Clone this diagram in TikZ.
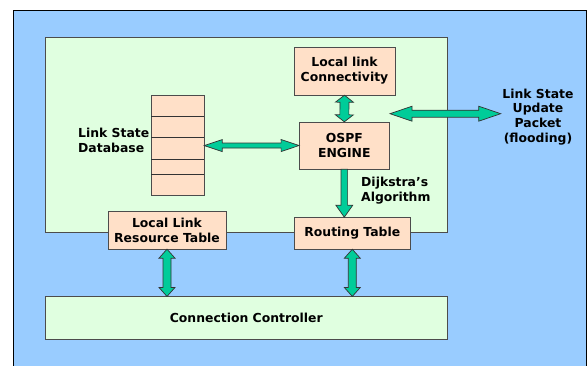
\documentclass[tikz,border=0pt]{standalone}
\usepackage{fontspec}
\setmainfont{DejaVu Sans}
\usetikzlibrary{calc}
\definecolor{skyblue}{RGB}{153,204,255}
\definecolor{palegreen}{RGB}{224,255,224}
\definecolor{peach}{RGB}{255,224,200}
\definecolor{arrowgreen}{RGB}{0,204,153}
\tikzset{
  fatsize/.code args={#1/#2/#3}{\def\fhl{#1}\def\fhw{#2}\def\fsw{#3}},
  fatsize=9pt/8pt/4pt
}

\begin{document}
\begin{tikzpicture}[x=1pt,y=-1pt,font=\fontsize{12.4}{14.8}\selectfont\bfseries]
        \tikzstyle{panel}=[
            draw=black!70,
            fill=palegreen,
            inner sep=0pt
        ]
        \tikzstyle{block}=[
            draw=black!70,
            fill=peach,
            align=center,
            inner sep=0pt
        ]
        \tikzstyle{tag}=[
            align=center,
            inner sep=1pt
        ]
        \tikzstyle{dblarrow}=[
            draw=black!80,
            fill=arrowgreen,
            line width=0.7pt,
            to path={let \p1=(\tikztostart), \p2=(\tikztotarget), \n1={atan2(\y2-\y1,\x2-\x1)} in
              (\p1) -- ($(\p1)+(\n1:\fhl)+(\n1+90:\fhw)$) -- ($(\p1)+(\n1:\fhl)+(\n1+90:\fsw)$)
              -- ($(\p2)+(\n1:-\fhl)+(\n1+90:\fsw)$) -- ($(\p2)+(\n1:-\fhl)+(\n1+90:\fhw)$)
              -- (\p2) -- ($(\p2)+(\n1:-\fhl)+(\n1-90:\fhw)$) -- ($(\p2)+(\n1:-\fhl)+(\n1-90:\fsw)$)
              -- ($(\p1)+(\n1:\fhl)+(\n1-90:\fsw)$) -- ($(\p1)+(\n1:\fhl)+(\n1-90:\fhw)$) -- cycle}
        ]
        \tikzstyle{onearrow}=[
            draw=black!80,
            fill=arrowgreen,
            line width=0.7pt,
            to path={let \p1=(\tikztostart), \p2=(\tikztotarget), \n1={atan2(\y2-\y1,\x2-\x1)} in
              ($(\p1)+(\n1+90:\fsw)$) -- ($(\p2)+(\n1:-\fhl)+(\n1+90:\fsw)$) -- ($(\p2)+(\n1:-\fhl)+(\n1+90:\fhw)$)
              -- (\p2) -- ($(\p2)+(\n1:-\fhl)+(\n1-90:\fhw)$) -- ($(\p2)+(\n1:-\fhl)+(\n1-90:\fsw)$)
              -- ($(\p1)+(\n1-90:\fsw)$) -- cycle}
        ]

        \useasboundingbox (0,0) rectangle (588,365);
        \fill[skyblue] (13,10) rectangle (586,366);
        \draw[black, line width=0.8pt] (13,366) -- (13,10) -- (586,10) -- (586,366);

        \node[panel, minimum width=402.7pt, minimum height=195.7pt] (router) at (246.3,134.8) {};
        \node[block, minimum width=101pt, minimum height=48pt] (llc) at (344.5,71) {Local link\\Connectivity};
        \node[block, minimum width=90pt, minimum height=47pt] (ospf) at (344.3,145.5) {OSPF\\ENGINE};
        \node[block, minimum width=53pt, minimum height=100pt] (db) at (177.5,145.6) {};
        \foreach \r in {116.3,137.7,159,174.7}
            \draw[black!80, line width=0.6pt] (151,\r) -- (204,\r);
        \node[tag, align=left, anchor=west] (dbtag) at (77,140) {Link State\\Database};
        \node[tag] (lsu) at (538,117) {Link State\\Update\\Packet\\(flooding)};
        \node[tag, align=left, anchor=west] (dijk) at (360,191) {Dijkstra’s\\Algorithm};
        \node[block, minimum width=117.4pt, minimum height=37.3pt] (llrt) at (167,230.3) {Local Link\\Resource Table};
        \node[block, minimum width=116.7pt, minimum height=31.7pt] (rt) at (352.3,233.2) {Routing Table};
        \node[panel, minimum width=402.7pt, minimum height=42.3pt] (cc) at (246.3,317.8) {Connection Controller};

        \coordinate (flood) at (390,113.7);
        \coordinate (floodend) at (500.7,113.7);
        \coordinate (rttop) at (ospf.south |- rt.north);
        \coordinate (ccleft) at (llrt.south |- cc.north);
        \coordinate (ccright) at (rt.south |- cc.north);

        \draw[dblarrow, fatsize=18pt/6pt/2.5pt] (db.east) to (ospf.west);
        \draw[dblarrow, fatsize=7pt/9pt/4.5pt] (llc.south) to (ospf.north);
        \draw[dblarrow, fatsize=22pt/7.5pt/3.5pt] (flood) to (floodend);
        \draw[onearrow, fatsize=12pt/8.5pt/3.3pt] (ospf.south) to (rttop);
        \draw[dblarrow, fatsize=9pt/8pt/4pt] (llrt.south) to (ccleft);
        \draw[dblarrow, fatsize=9pt/8pt/4pt] (rt.south) to (ccright);

    \end{tikzpicture}
\end{document}
